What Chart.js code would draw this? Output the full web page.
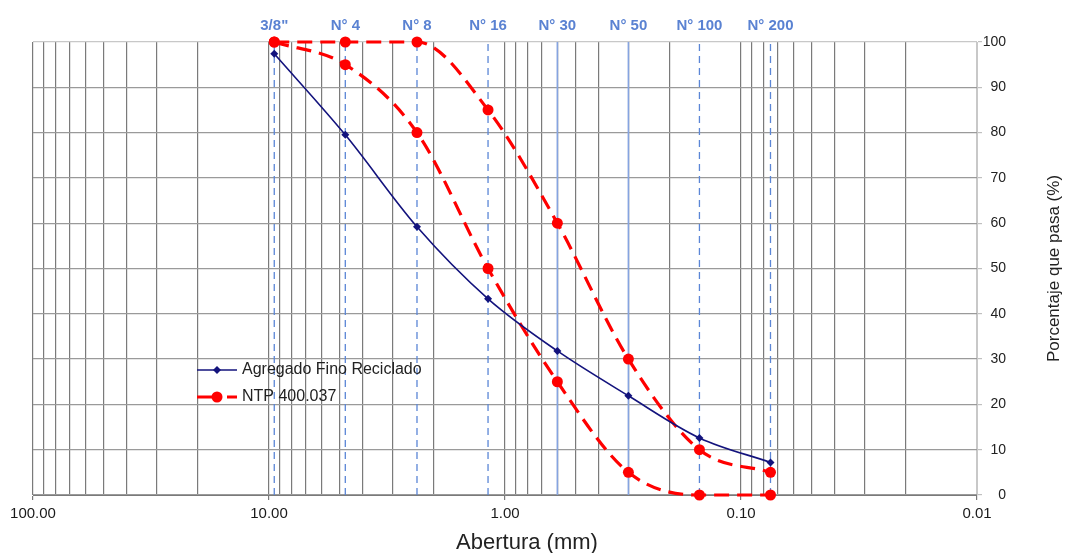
<!DOCTYPE html>
<html>
<head>
<meta charset="utf-8">
<script src="https://cdn.jsdelivr.net/npm/chart.js@4/dist/chart.umd.min.js"></script>
<style>
html,body{margin:0;padding:0;background:#fff}
#wrap{width:1069px;height:553px;position:relative}
</style>
</head>
<body>
<div id="wrap"><canvas id="c"></canvas></div>
<script>
// ---- data ----
const sieveLabels = ['3/8"', 'N° 4', 'N° 8', 'N° 16', 'N° 30', 'N° 50', 'N° 100', 'N° 200'];
const sieveSizes = [9.5, 4.75, 2.36, 1.18, 0.6, 0.3, 0.15, 0.075];
const recicladoPasa = [97.4, 79.5, 59.2, 43.3, 31.8, 21.9, 12.6, 7.2];
const ntpSuperior = [100, 100, 100, 85, 60, 30, 10, 5];
const ntpInferior = [100, 95, 80, 50, 25, 5, 0, 0];
const xMajorTicks = [100, 10, 1, 0.1, 0.01];
const seriesLabels = ['Agregado Fino Reciclado', 'NTP 400.037'];
const solidSieves = ['N° 30', 'N° 50'];
const xTitle = 'Abertura (mm)';
const yTitle = 'Porcentaje que pasa (%)';

const FONT = "'Liberation Sans', Arial, sans-serif";

// minor log grid positions (1..9 x each decade)
const xGridTicks = [];
for (let e = -2; e <= 1; e++) {
  for (let m = 1; m <= 9; m++) xGridTicks.push(+(m * Math.pow(10, e)).toPrecision(6));
}
xGridTicks.push(100);
const isMajor = v => xMajorTicks.some(t => Math.abs(t - v) / t < 1e-6);

const pts = ys => sieveSizes.map((x, i) => ({x, y: ys[i]}));

const sieveSets = sieveSizes.map((v, i) => {
  const solid = solidSieves.includes(sieveLabels[i]);
  return {
    label: sieveLabels[i],
    data: [{x: v, y: 0}, {x: v, y: 100}],
    borderColor: solid ? '#86a4e0' : '#5b86d6',
    borderWidth: solid ? 1.6 : 1.3,
    borderDash: solid ? [] : [7, 5],
    pointRadius: 0,
    order: 10
  };
});

const datasets = [
  ...sieveSets,
  {
    label: seriesLabels[0],
    data: pts(recicladoPasa),
    borderColor: '#13137d',
    backgroundColor: '#13137d',
    borderWidth: 1.6,
    pointStyle: 'rectRot',
    pointRadius: 4,
    pointBorderWidth: 0,
    cubicInterpolationMode: 'monotone',
    order: 1,
    clip: false
  },
  {
    label: seriesLabels[1],
    data: pts(ntpSuperior),
    borderColor: '#ff0000',
    backgroundColor: '#ff0000',
    borderWidth: 3.2,
    borderDash: [15, 8],
    pointRadius: 5.5,
    pointBorderWidth: 0,
    cubicInterpolationMode: 'monotone',
    order: 2,
    clip: false
  },
  {
    label: seriesLabels[1] + ' (inf)',
    data: pts(ntpInferior),
    borderColor: '#ff0000',
    backgroundColor: '#ff0000',
    borderWidth: 3.2,
    borderDash: [15, 8],
    pointRadius: 5.5,
    pointBorderWidth: 0,
    cubicInterpolationMode: 'monotone',
    order: 2,
    clip: false
  }
];

const legendPlugin = {
  id: 'innerLegend',
  afterDatasetsDraw(chart) {
    const ctx = chart.ctx;
    const x0 = 197, x1 = 237, xm = 217, tx = 242;
    const rows = [370, 397];
    ctx.save();
    const b = chart.data.datasets[sieveSets.length];
    ctx.strokeStyle = b.borderColor; ctx.lineWidth = b.borderWidth; ctx.setLineDash([]);
    ctx.beginPath(); ctx.moveTo(x0, rows[0]); ctx.lineTo(x1, rows[0]); ctx.stroke();
    ctx.fillStyle = b.borderColor;
    ctx.beginPath(); ctx.moveTo(xm, rows[0] - 4); ctx.lineTo(xm + 4, rows[0]); ctx.lineTo(xm, rows[0] + 4); ctx.lineTo(xm - 4, rows[0]); ctx.closePath(); ctx.fill();
    const r = chart.data.datasets[sieveSets.length + 1];
    ctx.strokeStyle = r.borderColor; ctx.lineWidth = r.borderWidth;
    ctx.beginPath(); ctx.moveTo(x0, rows[1]); ctx.lineTo(x0 + 18, rows[1]); ctx.moveTo(x0 + 30, rows[1]); ctx.lineTo(x1, rows[1]); ctx.stroke();
    ctx.fillStyle = r.borderColor;
    ctx.beginPath(); ctx.arc(xm, rows[1], 5.5, 0, Math.PI * 2); ctx.fill();
    ctx.fillStyle = '#222';
    ctx.font = '16px ' + FONT;
    ctx.textAlign = 'left'; ctx.textBaseline = 'middle';
    ctx.fillText(seriesLabels[0], tx, rows[0]);
    ctx.fillText(seriesLabels[1], tx, rows[1]);
    ctx.restore();
  }
};

const titlesPlugin = {
  id: 'axisTitles',
  afterDraw(chart) {
    const ctx = chart.ctx, a = chart.chartArea;
    ctx.save();
    ctx.fillStyle = '#222';
    ctx.textAlign = 'center'; ctx.textBaseline = 'middle';
    ctx.font = '22px ' + FONT;
    ctx.fillText(xTitle, 527, 543);
    ctx.translate(1054, (a.top + a.bottom) / 2);
    ctx.rotate(-Math.PI / 2);
    ctx.font = '17px ' + FONT;
    ctx.fillText(yTitle, 0, 0);
    ctx.restore();
  }
};

new Chart(document.getElementById('c'), {
  type: 'line',
  data: {datasets},
  plugins: [legendPlugin, titlesPlugin],
  options: {
    responsive: true,
    maintainAspectRatio: false,
    animation: false,
    events: [],
    layout: {padding: {left: 33, right: 63, top: 0, bottom: 0}},
    plugins: {legend: {display: false}, tooltip: {enabled: false}},
    scales: {
      x: {
        type: 'logarithmic',
        position: 'bottom',
        min: 0.01, max: 100, reverse: true,
        afterBuildTicks: s => { s.ticks = xGridTicks.map(v => ({value: v, major: isMajor(v)})); },
        afterFit: s => { s.height = 58; },
        ticks: {
          autoSkip: false, maxRotation: 0, minRotation: 0, padding: 5,
          color: '#1a1a1a', font: {family: FONT, size: 15},
          callback: v => isMajor(v) ? Number(v).toFixed(2) : ''
        },
        grid: {
          color: c => (c.tick && Math.abs(c.tick.value - 0.01) < 1e-9) ? '#c8c8c8' : '#7a7a7a',
          tickColor: c => (c.tick && isMajor(c.tick.value)) ? '#7a7a7a' : 'rgba(0,0,0,0)',
          tickLength: 5, lineWidth: 1.2
        },
        border: {color: '#7a7a7a'}
      },
      xTop: {
        type: 'logarithmic',
        position: 'top',
        min: 0.01, max: 100, reverse: true,
        afterBuildTicks: s => { s.ticks = sieveSizes.map(v => ({value: v})); },
        afterFit: s => { s.height = 42; },
        ticks: {
          autoSkip: false, maxRotation: 0, minRotation: 0, padding: 7,
          color: '#5a82d2', font: {family: FONT, size: 15, weight: 'bold'},
          callback: v => {
            let k = 0, d = Infinity;
            sieveSizes.forEach((s, i) => { const dd = Math.abs(s - v); if (dd < d) { d = dd; k = i; } });
            return sieveLabels[k];
          }
        },
        grid: {display: false, drawTicks: false},
        border: {display: false}
      },
      y: {
        position: 'right',
        min: 0, max: 100,
        afterFit: s => { s.width = 29; },
        ticks: {stepSize: 10, padding: 0, crossAlign: 'far', color: '#222', font: {family: FONT, size: 14}},
        grid: {
          color: c => (c.tick && c.tick.value === 100) ? '#c8c8c8' : '#9a9a9a',
          tickColor: '#c0c0c0', tickLength: 5, lineWidth: 1.2
        },
        border: {color: '#c8c8c8'}
      }
    }
  }
});
</script>
</body>
</html>
